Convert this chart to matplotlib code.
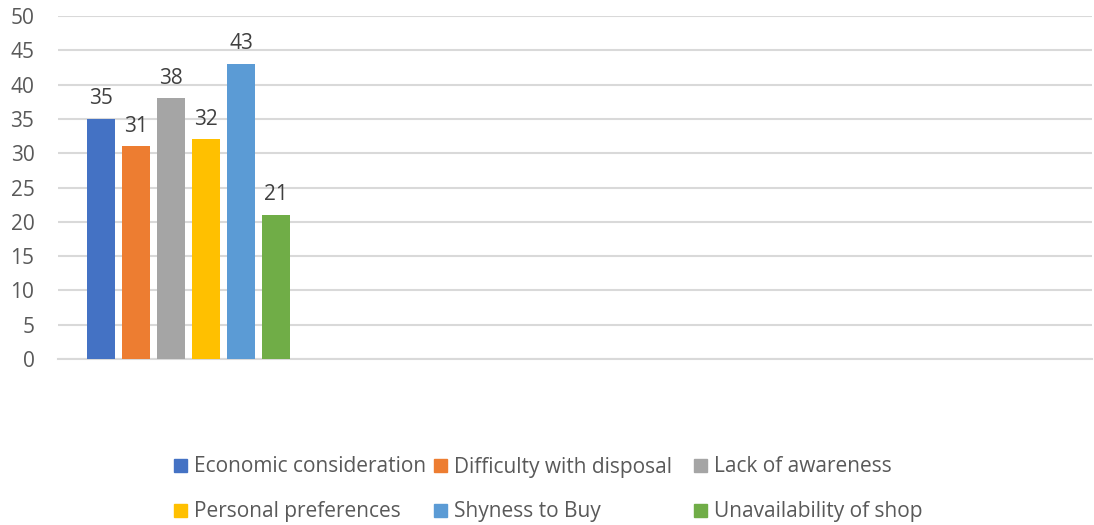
import matplotlib
matplotlib.use("Agg")
import matplotlib.pyplot as plt
from matplotlib.patches import Rectangle

# reasons given, one bar each
reasons = ["Economic consideration", "Difficulty with disposal", "Lack of awareness",
           "Personal preferences", "Shyness to Buy", "Unavailability of shop"]
counts = [35, 31, 38, 32, 43, 21]
colors = ["#4472C4", "#ED7D31", "#A5A5A5", "#FFC000", "#5B9BD5", "#70AD47"]
yticks = list(range(0, 55, 5))

plt.rcParams["font.family"] = ["Open Sans", "DejaVu Sans"]
W, H = 1094, 525
fig = plt.figure(figsize=(W / 100, H / 100), dpi=100)
ax = fig.add_axes([58 / W, (H - 359) / H, (1092 - 58) / W, (359 - 16) / H])

xs = list(range(len(counts)))
bars = ax.bar(xs, counts, width=0.8, color=colors, zorder=3)
ax.bar_label(bars, padding=7, fontsize=15, color="#404040")

ax.set_xlim(-1.23, 28.31)
ax.set_ylim(0, 50)
ax.set_yticks(yticks)
ax.tick_params(axis="y", length=0, pad=17, labelsize=15, labelcolor="#595959")
ax.set_xticks([])
ax.grid(axis="y", color="#D9D9D9", linewidth=1.5, zorder=0)
for side in ["left", "right", "top"]:
    ax.spines[side].set_visible(False)
ax.spines["bottom"].set_color("#D9D9D9")
ax.spines["bottom"].set_linewidth(1.5)

# legend laid out like Excel: equal-width columns, two rows
col_x = [174, 434, 694]
row_y = [465, 510]
for i, (name, c) in enumerate(zip(reasons, colors)):
    x0 = col_x[i % 3]
    y0 = row_y[i // 3]
    fig.add_artist(Rectangle((x0 / W, (H - y0 - 6.5) / H), 13 / W, 13 / H,
                             transform=fig.transFigure, color=c))
    fig.text((x0 + 20) / W, (H - y0 - 2) / H, name, fontsize=15, color="#595959",
             va="center", ha="left")

fig.savefig("out.png", dpi=100, facecolor="white")
